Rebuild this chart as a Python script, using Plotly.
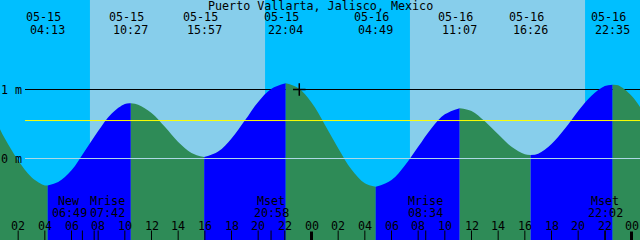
import plotly.graph_objects as go

# ---------------- data ----------------
title = "Puerto Vallarta, Jalisco, Mexico"

# high / low tide events shown at top (date, clock, height in m)
ext_date = ["05-15", "05-15", "05-15", "05-15", "05-16", "05-16", "05-16", "05-16"]
ext_clock = ["04:13", "10:27", "15:57", "22:04", "04:49", "11:07", "16:26", "22:35"]
ext_height = [-0.39, 0.80, 0.02, 1.09, -0.41, 0.73, 0.05, 1.07]

# extremes just outside the window (estimated from the curve at the edges)
pre_ext = ("05-14", "21:34", 1.05)
post_ext = ("05-17", "05:18", -0.42)

# hourly tide heights (m), hour 0 = 05-15 00:00
hourly_hours = list(range(0, 50))
hourly_heights = [
    0.63, 0.29, -0.03, -0.27, -0.39, -0.34, -0.17, 0.11, 0.40, 0.65,
    0.79, 0.78, 0.66, 0.46, 0.24, 0.08, 0.02, 0.10, 0.29, 0.55,
    0.82, 1.01, 1.09, 1.02, 0.81, 0.49, 0.15, -0.16, -0.36, -0.41,
    -0.31, -0.10, 0.17, 0.44, 0.64, 0.73, 0.69, 0.54, 0.35, 0.17,
    0.06, 0.07, 0.21, 0.43, 0.69, 0.91, 1.05, 1.06, 0.91, 0.65,
]

# sun
sun_days = ["05-15", "05-16"]
sunrise = ["07:23", "07:23"]
sunset = ["20:31", "20:31"]

# moon events
moon_name = ["New", "Mrise", "Mset", "Mrise", "Mset"]
moon_date = ["05-15", "05-15", "05-15", "05-16", "05-16"]
moon_clock = ["06:49", "07:42", "20:58", "08:34", "22:02"]

# axis
hour_ticks = list(range(2, 49, 2))
hour_labels = ["%02d" % (h % 24) for h in hour_ticks]
level_lines = [1.0, 0.0]
level_labels = ["1 m", "0 m"]
msl_level = 0.55
now_date, now_clock, now_level = "05-15", "23:05", 1.0

# ---------------- helpers ----------------
DAY0 = {"05-14": -24, "05-15": 0, "05-16": 24, "05-17": 48}


def hrs(date, clock):
    hh, mm = clock.split(":")
    return DAY0[date] + int(hh) + int(mm) / 60.0


W, H = 640, 240
XR = [0.6375, 48.6375]
YR = [-1.181, 2.297]
FONT = "DejaVu Sans Mono"
FS = 11.7


def py(px):  # pixel row -> paper y
    return 1 - px / H


ext_t = [hrs(d, c) for d, c in zip(ext_date, ext_clock)]
all_t = [hrs(pre_ext[0], pre_ext[1])] + ext_t + [hrs(post_ext[0], post_ext[1])]
all_h = [pre_ext[2]] + ext_height + [post_ext[2]]

fig = go.Figure()

# tide fill segments: rising = blue, falling = seagreen
for i in range(len(all_t) - 1):
    ta, tb = all_t[i], all_t[i + 1]
    ha, hb = all_h[i], all_h[i + 1]
    xs, ys = [ta], [ha]
    for t, h in zip(hourly_hours, hourly_heights):
        if ta + 0.2 < t < tb - 0.2:
            xs.append(t)
            ys.append(h)
    xs.append(tb)
    ys.append(hb)
    color = "#0000FF" if hb > ha else "#2E8B57"
    fig.add_trace(go.Scatter(x=[ta, tb], y=[YR[0] - 0.5] * 2, mode="lines",
                             line=dict(width=0), hoverinfo="skip"))
    fig.add_trace(go.Scatter(x=xs, y=ys, mode="lines", fill="tonexty",
                             fillcolor=color, line=dict(width=0, shape="spline", color=color),
                             hoverinfo="skip"))

# now marker
fig.add_trace(go.Scatter(x=[hrs(now_date, now_clock)], y=[now_level], mode="markers",
                         marker=dict(symbol="cross-thin", size=9,
                                     line=dict(width=1.5, color="black")),
                         hoverinfo="skip"))

shapes = []
# day backgrounds
for d, r, s in zip(sun_days, sunrise, sunset):
    shapes.append(dict(type="rect", xref="x", yref="paper", x0=hrs(d, r), x1=hrs(d, s),
                       y0=0, y1=1, fillcolor="#87CEEB", line=dict(width=0), layer="below"))
# 1 m line (behind curve)
x_start = XR[0] + 25 / (W / (XR[1] - XR[0]))
shapes.append(dict(type="line", xref="x", yref="y", x0=x_start, x1=XR[1],
                   y0=level_lines[0], y1=level_lines[0],
                   line=dict(color="black", width=1), layer="below"))
# 0 m line and MSL (above curve)
shapes.append(dict(type="line", xref="x", yref="y", x0=x_start, x1=XR[1],
                   y0=level_lines[1], y1=level_lines[1],
                   line=dict(color="#ADD8E6", width=1), layer="above"))
shapes.append(dict(type="line", xref="x", yref="y", x0=x_start, x1=XR[1],
                   y0=msl_level, y1=msl_level,
                   line=dict(color="#FFFF00", width=1), layer="above"))
# hour ticks
for h in hour_ticks:
    mid = (h % 24 == 0)
    shapes.append(dict(type="line", xref="x", yref="paper", x0=h, x1=h,
                       y0=0, y1=(8.5 if mid else 9.5) / H,
                       line=dict(color="black", width=3 if mid else 1), layer="above"))
# moon ticks
for d, c in zip(moon_date, moon_clock):
    t = hrs(d, c)
    shapes.append(dict(type="line", xref="x", yref="paper", x0=t, x1=t,
                       y0=0, y1=9.5 / H, line=dict(color="black", width=1), layer="above"))

ann = []
f = dict(family=FONT, size=FS, color="black")
ann.append(dict(text=title, xref="paper", yref="paper", x=0.5, y=py(5.6),
                xanchor="center", yanchor="middle", showarrow=False, font=f))
for d, c, t in zip(ext_date, ext_clock, ext_t):
    ann.append(dict(text=d, xref="x", yref="paper", x=t, y=py(17.5), xshift=-4,
                    xanchor="center", yanchor="middle", showarrow=False, font=f,
                    borderpad=0))
    ann.append(dict(text=c, xref="x", yref="paper", x=t, y=py(29.5),
                    xanchor="center", yanchor="middle", showarrow=False, font=f,
                    borderpad=0))
for lv, lb in zip(level_lines, level_labels):
    ann.append(dict(text=lb, xref="paper", yref="y", x=0, y=lv, xshift=-1,
                    xanchor="left", yanchor="middle", showarrow=False, font=f))
for h, lb in zip(hour_ticks, hour_labels):
    ann.append(dict(text=lb, xref="x", yref="paper", x=h, y=py(226),
                    xanchor="center", yanchor="middle", showarrow=False, font=f,
                    borderpad=0))
moon_shift = [-13, 13, 0, 0, 0]
for n, d, c, s in zip(moon_name, moon_date, moon_clock, moon_shift):
    t = hrs(d, c)
    ann.append(dict(text=n, xref="x", yref="paper", x=t, y=py(201), xshift=s,
                    xanchor="center", yanchor="middle", showarrow=False, font=f,
                    borderpad=0))
    ann.append(dict(text=c, xref="x", yref="paper", x=t, y=py(212.8), xshift=s,
                    xanchor="center", yanchor="middle", showarrow=False, font=f,
                    borderpad=0))

fig.update_layout(
    width=W, height=H, autosize=False,
    margin=dict(l=0, r=0, t=0, b=0, pad=0),
    paper_bgcolor="#00BFFF", plot_bgcolor="#00BFFF",
    showlegend=False,
    xaxis=dict(range=XR, visible=False, fixedrange=True),
    yaxis=dict(range=YR, visible=False, fixedrange=True),
    shapes=shapes, annotations=ann,
)

fig.write_html("out.html", config=dict(displayModeBar=False, staticPlot=True))
